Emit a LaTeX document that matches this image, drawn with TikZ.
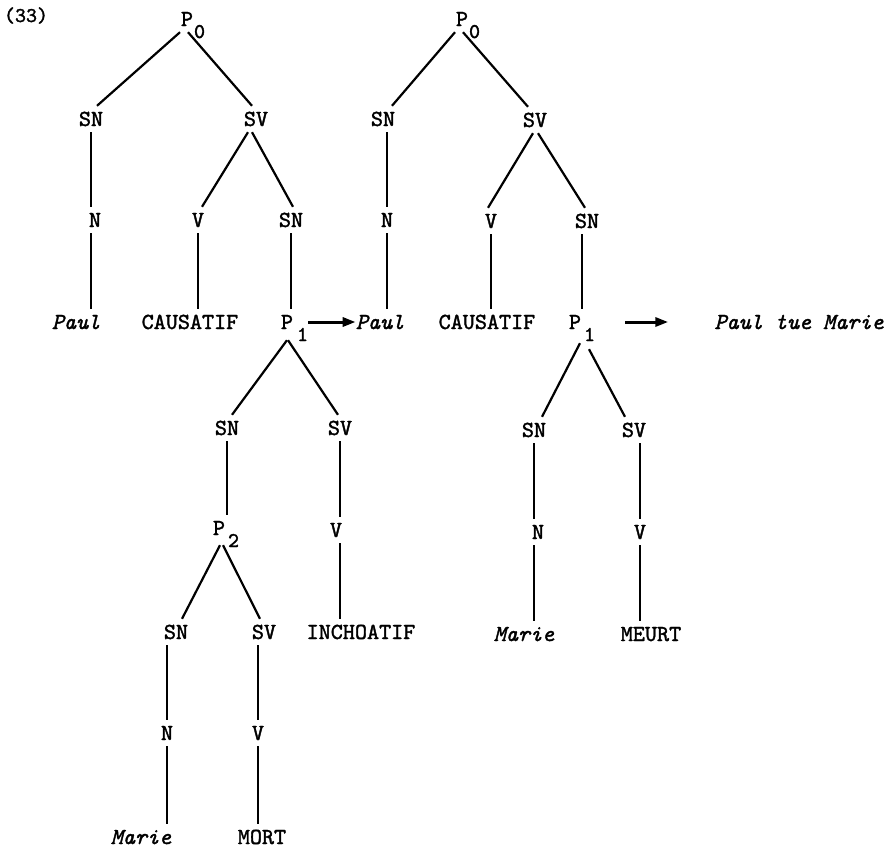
\documentclass[tikz,border=0pt]{standalone}
\usepackage{fontspec}
\newfontfamily\tw{lmmono10-regular.otf}[FakeBold=1.6, ItalicFont=lmmono10-italic.otf, ItalicFeatures={FakeBold=1.6}]
\usetikzlibrary{arrows.meta}
\newcommand\Psub[2][1pt]{P\rlap{\hspace{#1}\raisebox{-12pt}{\fontsize{21}{21}\selectfont #2}}}
\begin{document}
\begin{tikzpicture}[x=1pt,y=-1pt,
  lbl/.style={font=\fontsize{23}{23}\selectfont\tw, inner xsep=0pt, inner ysep=6pt,
              text height=14pt, text depth=0pt, anchor=center},
  itl/.style={lbl, font=\fontsize{23}{23}\selectfont\tw\itshape},
  edge/.style={line width=2.2pt},
  arr/.style={line width=3pt, -{Triangle[length=13pt,width=9pt]}}]
\fill[white] (0,0) rectangle (894,849);
\useasboundingbox (0,0) rectangle (894,849);

\node[lbl, font=\fontsize{21}{21}\selectfont\tw] (num) at (26,15) {(33)};

% ---------- first tree ----------
\node[lbl] (P0a) at (187,19) {\Psub{0}};
\node[lbl] (SNa) at (91,119) {SN};
\node[lbl] (SVa) at (256,119) {SV};
\node[lbl] (Na) at (95,220) {N};
\node[lbl] (Va) at (198,220) {V};
\node[lbl] (SNb) at (291,220) {SN};
\node[itl] (Paula) at (76,322) {Paul};
\node[lbl] (CAUSa) at (190,322) {CAUSATIF};
\node[lbl] (P1a) at (287,322) {\Psub[4pt]{1}};
\node[lbl] (SNc) at (227,428) {SN};
\node[lbl] (SVc) at (340,428) {SV};
\node[lbl] (P2) at (219,528) {\Psub[3pt]{2}};
\node[lbl] (Vc) at (336,530) {V};
\node[lbl] (SNd) at (176,632) {SN};
\node[lbl] (SVd) at (264,632) {SV};
\node[lbl] (INCH) at (361,632) {INCHOATIF};
\node[lbl] (Nd) at (167,733) {N};
\node[lbl] (Vd) at (258,733) {V};
\node[itl] (Mariea) at (141,837) {Marie};
\node[lbl] (MORT) at (262,837) {MORT};

% ---------- second tree ----------
\node[lbl] (P0b) at (462,19) {\Psub{0}};
\node[lbl] (SNe) at (383,119) {SN};
\node[lbl] (SVe) at (535,120) {SV};
\node[lbl] (Ne) at (387,220) {N};
\node[lbl] (Ve) at (491,221) {V};
\node[lbl] (SNf) at (587,221) {SN};
\node[itl] (Paulb) at (380,322) {Paul};
\node[lbl] (CAUSb) at (487,322) {CAUSATIF};
\node[lbl] (P1b) at (575,322) {\Psub[3pt]{1}};
\node[lbl] (SNg) at (534,430) {SN};
\node[lbl] (SVg) at (634,430) {SV};
\node[lbl] (Ng) at (538,532) {N};
\node[lbl] (Vg) at (640,532) {V};
\node[itl] (Marieb) at (524,634) {Marie};
\node[lbl] (MEURT) at (651,634) {MEURT};

\node[itl] (res) at (799,322) {Paul tue Marie};

% ---------- diagonal branches ----------
\draw[edge] ([xshift=-7pt]P0a.south) -- ([xshift=6pt]SNa.north);
\draw[edge] ([xshift=1pt]P0a.south) -- ([xshift=-4pt]SVa.north);
\draw[edge] ([xshift=-8pt]SVa.south) -- ([xshift=4pt]Va.north);
\draw[edge] ([xshift=-4pt]SVa.south) -- ([xshift=2pt]SNb.north);
\draw[edge] ([yshift=-5pt]P1a.south) -- ([xshift=5pt]SNc.north);
\draw[edge] ([xshift=1pt,yshift=-5pt]P1a.south) -- ([xshift=-2pt]SVc.north);
\draw[edge] ([xshift=1pt,yshift=-4pt]P2.south) -- ([xshift=6pt]SNd.north);
\draw[edge] ([xshift=4pt,yshift=-4pt]P2.south) -- ([xshift=-4pt]SVd.north);

\draw[edge] ([xshift=-7pt]P0b.south) -- ([xshift=9pt]SNe.north);
\draw[edge] ([xshift=1pt]P0b.south) -- ([xshift=-7pt]SVe.north);
\draw[edge] ([xshift=-2pt]SVe.south) -- ([xshift=-3pt]Ve.north);
\draw[edge] ([xshift=3pt]SVe.south) -- ([xshift=-2pt]SNf.north);
\draw[edge] ([xshift=5pt,yshift=-8pt]P1b.south) -- ([xshift=8pt]SNg.north);
\draw[edge] ([xshift=14pt,yshift=-14pt]P1b.south) -- ([xshift=-9pt]SVg.north);

% ---------- vertical branches ----------
\draw[edge] (SNa.south) -- (SNa.south |- Na.north);
\draw[edge] (SNa.south |- Na.south) -- (SNa.south |- Paula.north);
\draw[edge] (Va.south) -- (Va.south |- CAUSa.north);
\draw[edge] (SNb.south) -- (SNb.south |- P1a.north);
\draw[edge] (SNc.south) -- (SNc.south |- P2.north);
\draw[edge] (SVc.south) -- (SVc.south |- Vc.north);
\draw[edge] (SVc.south |- Vc.south) -- (SVc.south |- INCH.north);
\draw[edge] (Nd.north |- SNd.south) -- (Nd.north);
\draw[edge] (Nd.south) -- (Nd.south |- Mariea.north);
\draw[edge] (Vd.north |- SVd.south) -- (Vd.north);
\draw[edge] (Vd.south) -- (Vd.south |- MORT.north);

\draw[edge] (Ne.north |- SNe.south) -- (Ne.north);
\draw[edge] (Ne.south) -- (Ne.south |- Paulb.north);
\draw[edge] (Ve.south) -- (Ve.south |- CAUSb.north);
\coordinate (sf) at ([xshift=-5pt]SNf.south);
\draw[edge] (sf) -- (sf |- P1b.north);
\draw[edge] (SNg.south) -- (SNg.south |- Ng.north);
\draw[edge] (SNg.south |- Ng.south) -- (SNg.south |- Marieb.north);
\draw[edge] (Vg.north |- SVg.south) -- (Vg.north);
\draw[edge] (Vg.south) -- (Vg.south |- MEURT.north);

% ---------- transformation arrows ----------
\draw[arr] ([xshift=15pt]P1a.east) -- (Paulb.west);
\draw[arr] ([xshift=44pt]P1b.east) -- ([xshift=-46pt]res.west);
\end{tikzpicture}
\end{document}
